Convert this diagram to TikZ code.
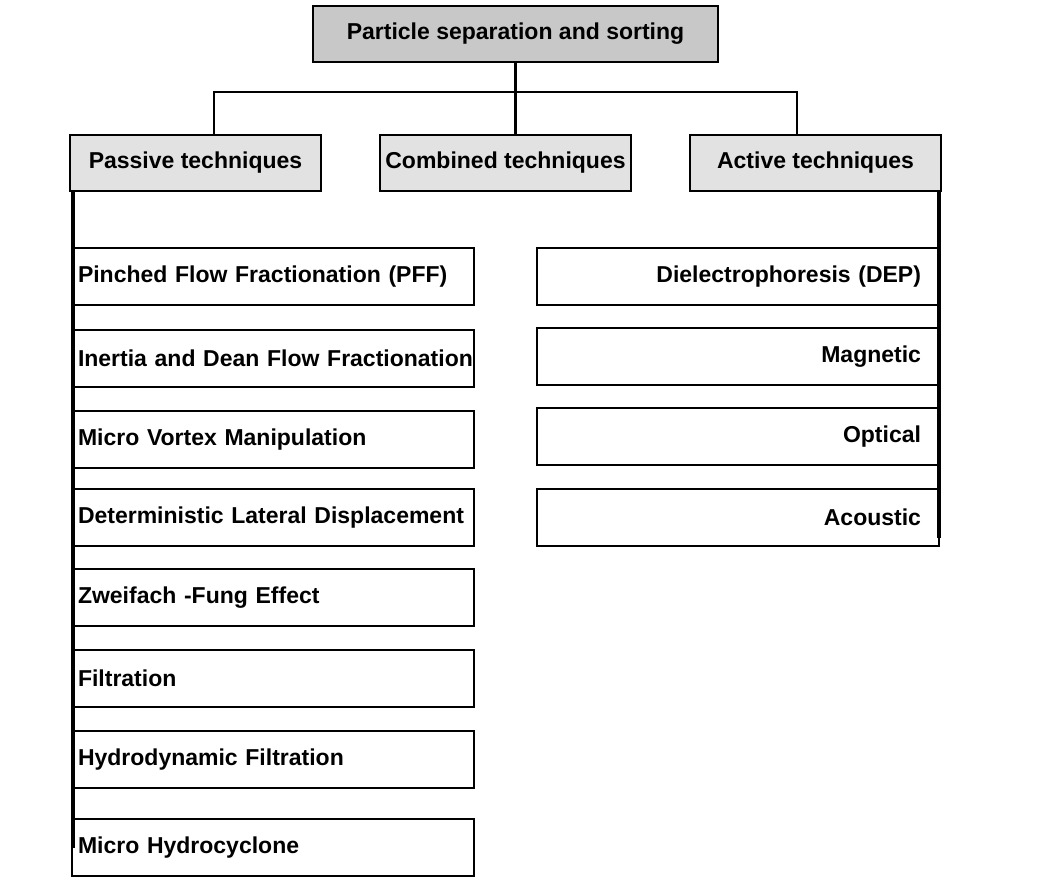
\documentclass[tikz,border=0pt]{standalone}
\usepackage{fontspec}
\setmainfont{Liberation Sans}
\definecolor{topgray}{RGB}{200,200,200}
\definecolor{headgray}{RGB}{226,226,226}
\begin{document}
\begin{tikzpicture}[x=1pt,y=-1pt,
  box/.style={draw, line width=2pt, anchor=north west, inner ysep=0pt, outer sep=0pt,
    font=\bfseries\fontsize{23}{27}\selectfont},
  topbox/.style={box, fill=topgray, minimum width=405pt, minimum height=56pt},
  headbox/.style={box, fill=headgray, minimum width=251pt, minimum height=56pt, inner xsep=2pt},
  leftbox/.style={box, minimum height=57pt, inner xsep=6pt, text width=390pt, align=left},
  rightbox/.style={box, minimum height=57pt, inner xsep=18pt, text width=366pt, align=right},
  conn/.style={line width=2.4pt},
  spine/.style={line width=4.4pt}]
\useasboundingbox (0,0) rectangle (1037,885);
\node[topbox] (top) at (313,6) {Particle separation and sorting};
\node[headbox] (pas) at (70,135) {Passive techniques};
\node[headbox] (comb) at (380,135) {Combined techniques};
\node[headbox] (act) at (690,135) {Active techniques};
\node[leftbox] (l1) at (72,248) {\mbox{Pinched Flow Fractionation (PFF)}};
\node[leftbox] (l2) at (72,330) {\mbox{Inertia and Dean Flow Fractionation}};
\node[leftbox] (l3) at (72,411) {\mbox{Micro Vortex Manipulation}};
\node[leftbox] (l4) at (72,489) {\mbox{Deterministic Lateral Displacement}};
\node[leftbox] (l5) at (72,569) {\mbox{Zweifach -Fung Effect}};
\node[leftbox] (l6) at (72,650) {\mbox{Filtration}};
\node[leftbox] (l7) at (72,731) {\mbox{Hydrodynamic Filtration}};
\node[leftbox] (l8) at (72,819) {\mbox{Micro Hydrocyclone}};
\node[rightbox] (r1) at (537,248) {\mbox{Dielectrophoresis (DEP)}};
\node[rightbox] (r2) at (537,328) {\mbox{Magnetic}};
\node[rightbox] (r3) at (537,408) {\mbox{Optical}};
\node[rightbox] (r4) at (537,489) {\mbox{Acoustic}};
\coordinate (ltop) at (73,191);
\coordinate (lend) at (73,848);
\coordinate (rtop) at (939,191);
\coordinate (rend) at (939,538);
\coordinate (jl) at (214,92);
\coordinate (jr) at (797,92);
\draw[conn] (top.south) -- (top.south |- comb.north);
\draw[conn] (jl |- pas.north) -- (jl) -- (jr) -- (jr |- act.north);
\draw[spine] (ltop) -- (lend);
\draw[spine] (rtop) -- (rend);
\end{tikzpicture}
\end{document}
